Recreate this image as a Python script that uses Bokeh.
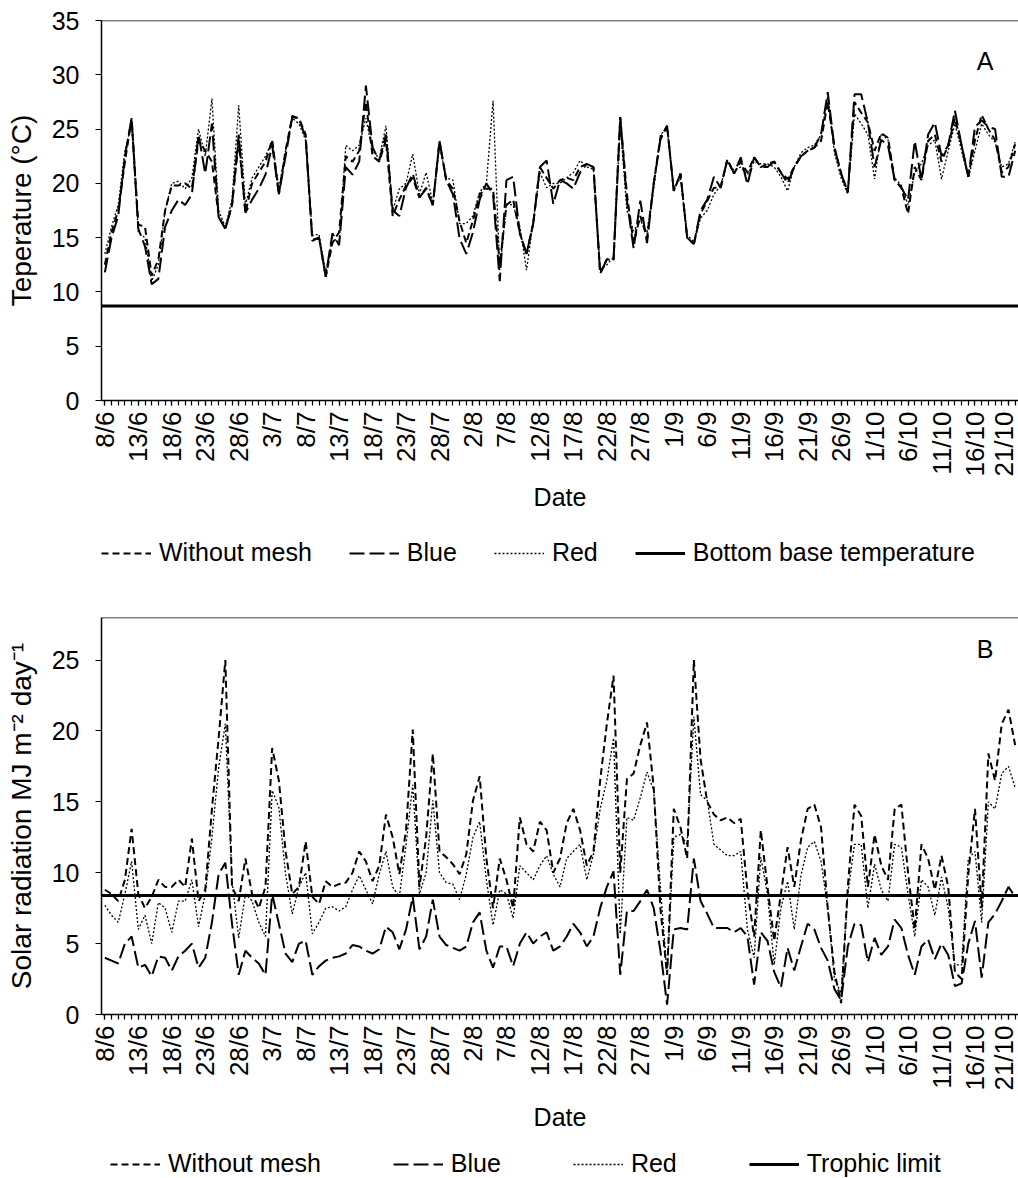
import math
from bokeh.plotting import figure
from bokeh.models import FixedTicker, Legend, LegendItem, Label, Span, Range1d
from bokeh.layouts import column
from bokeh.embed import file_html
from bokeh.resources import INLINE

# ---------------- data ----------------
tick_labels = ["8/6", "13/6", "18/6", "23/6", "28/6", "3/7", "8/7", "13/7", "18/7",
               "23/7", "28/7", "2/8", "7/8", "12/8", "17/8", "22/8", "27/8", "1/9",
               "6/9", "11/9", "16/9", "21/9", "26/9", "1/10", "6/10", "11/10",
               "16/10", "21/10"]

# Panel A: daily temperature (°C), one value per day starting 8/6
temp_without_mesh = [
    12.5, 15.5, 17.5, 22.0, 26.0, 16.2, 16.0, 11.5, 13.0, 17.5,
    19.8, 19.8, 20.0, 19.5, 24.0, 23.0, 22.0, 17.0, 15.8, 18.0,
    24.0, 17.3, 20.0, 21.0, 22.0, 24.0, 19.0, 23.0, 26.2, 26.0,
    24.5, 14.8, 15.0, 11.4, 14.5, 15.5, 22.5, 22.0, 23.0, 27.5,
    22.5, 22.0, 24.0, 17.0, 18.5, 19.8, 20.5, 18.7, 19.6, 18.0,
    23.9, 20.3, 19.5, 16.5, 14.5, 16.6, 19.0, 19.5, 19.5, 12.5,
    18.0, 18.5, 15.4, 13.5, 16.3, 21.5, 20.5, 19.5, 20.3, 20.5,
    20.3, 21.5, 21.8, 21.5, 11.7, 13.0, 12.9, 26.1, 19.0, 14.5,
    17.0, 15.0, 20.0, 24.2, 25.3, 19.3, 20.9, 15.0, 14.4, 17.2,
    18.4, 19.6, 19.6, 22.2, 20.9, 22.0, 21.0, 22.4, 21.5, 21.8,
    22.0, 21.0, 20.4, 21.5, 22.5, 23.0, 23.3, 23.9, 27.5, 23.3,
    20.9, 19.2, 27.5, 26.5, 25.6, 23.0, 24.6, 24.2, 20.3, 19.6,
    17.2, 21.5, 20.3, 23.9, 24.5, 22.0, 23.5, 26.0, 23.5, 20.6,
    24.0, 26.3, 25.0, 24.0, 21.0, 21.5, 23.6]
temp_blue = [
    11.8, 15.0, 17.0, 22.5, 26.0, 15.8, 14.2, 10.7, 11.2, 16.0,
    17.5, 18.5, 18.0, 19.0, 24.5, 20.9, 25.5, 16.9, 15.8, 18.0,
    24.5, 17.3, 18.5, 19.5, 20.8, 23.5, 19.0, 22.5, 26.1, 26.0,
    24.2, 14.7, 15.0, 11.4, 15.4, 14.3, 21.5, 20.8, 22.0, 29.0,
    23.3, 22.1, 24.5, 17.5, 17.0, 19.6, 20.9, 18.7, 19.5, 18.0,
    23.9, 20.3, 19.0, 14.9, 13.5, 15.5, 18.5, 20.0, 19.0, 11.0,
    20.3, 20.6, 15.4, 13.5, 16.3, 21.5, 22.1, 18.1, 20.3, 20.0,
    19.5, 21.0, 21.8, 21.5, 11.7, 13.0, 13.0, 26.1, 18.4, 14.0,
    18.4, 14.5, 20.0, 24.0, 25.3, 19.3, 20.9, 15.0, 14.4, 17.5,
    18.5, 20.6, 19.6, 22.2, 20.9, 22.4, 19.9, 22.4, 21.5, 21.5,
    22.0, 21.0, 20.0, 21.5, 22.5, 23.0, 23.3, 24.5, 28.4, 23.3,
    20.9, 19.2, 28.2, 28.2, 25.6, 21.5, 24.0, 23.5, 20.3, 19.6,
    18.5, 23.9, 20.3, 24.5, 25.6, 22.5, 23.5, 26.7, 23.5, 20.6,
    25.2, 25.8, 25.2, 25.0, 20.6, 20.6, 23.0]
temp_red = [
    13.5, 16.0, 18.0, 23.0, 25.5, 15.5, 15.0, 11.0, 12.5, 17.5,
    20.0, 20.2, 19.5, 20.5, 25.0, 22.5, 27.8, 17.5, 16.0, 18.5,
    27.2, 18.0, 20.5, 21.5, 22.5, 23.9, 19.5, 23.0, 26.0, 25.5,
    24.0, 15.2, 15.3, 11.8, 15.0, 14.5, 23.5, 23.0, 23.5, 26.0,
    23.0, 22.3, 25.3, 17.5, 19.5, 20.0, 22.7, 19.0, 21.0, 18.2,
    23.5, 20.5, 20.3, 16.3, 16.3, 17.0, 19.2, 20.0, 27.6, 12.0,
    18.1, 18.0, 16.0, 12.0, 16.5, 21.0, 19.6, 20.0, 20.0, 20.5,
    21.0, 22.1, 21.5, 21.3, 12.0, 12.5, 13.2, 25.5, 17.5, 15.6,
    16.6, 15.5, 19.5, 24.5, 25.0, 19.5, 20.5, 15.3, 14.6, 16.8,
    17.5, 19.0, 19.8, 22.0, 21.2, 21.5, 20.8, 22.0, 21.8, 21.8,
    21.5, 20.6, 19.3, 21.5, 22.8, 23.3, 23.5, 24.5, 28.0, 22.8,
    20.5, 19.0, 26.4, 25.5, 24.5, 20.4, 24.6, 24.0, 20.5, 19.8,
    18.0, 21.0, 21.8, 23.5, 24.0, 20.4, 23.0, 25.5, 23.0, 20.5,
    23.0, 25.5, 24.5, 23.8, 21.5, 21.8, 23.8]
bottom_base_temperature = 8.7

# Panel B: daily solar radiation (MJ m-2 day-1)
rad_without_mesh = [
    8.8, 8.5, 8.0, 9.5, 13.1, 8.5, 7.5, 8.3, 9.5, 9.0,
    9.0, 9.5, 9.0, 12.4, 8.0, 8.8, 14.5, 19.5, 25.0, 9.0,
    8.0, 11.0, 8.5, 7.5, 9.0, 18.8, 16.5, 11.5, 8.5, 9.0,
    12.2, 8.3, 7.8, 9.4, 9.0, 9.2, 9.3, 10.0, 11.5, 10.8,
    9.4, 10.5, 14.1, 12.5, 9.9, 13.0, 20.1, 9.0, 12.5, 18.4,
    11.5, 11.1, 10.6, 9.9, 11.3, 15.1, 16.8, 11.0, 7.5, 11.0,
    9.5, 7.5, 13.9, 12.0, 11.5, 13.6, 13.0, 10.0, 11.0, 13.5,
    14.5, 13.0, 10.5, 11.5, 16.5, 20.5, 23.9, 10.0, 16.6, 17.0,
    19.0, 20.6, 16.0, 7.5, 2.8, 14.5, 13.2, 11.0, 25.0, 18.0,
    15.0, 14.1, 13.7, 13.9, 13.5, 13.8, 8.7, 5.5, 13.0, 9.0,
    5.2, 8.5, 11.8, 9.0, 12.3, 14.5, 14.8, 13.2, 7.5, 3.0,
    0.8, 9.0, 14.8, 14.0, 9.0, 12.7, 10.5, 9.5, 14.5, 14.8,
    10.0, 6.0, 12.0, 11.0, 8.8, 11.2, 9.0, 3.0, 2.5, 9.9,
    14.5, 7.5, 18.4, 16.5, 20.5, 21.5, 19.0]
rad_blue = [
    4.0, 3.8, 3.6, 5.0, 5.5, 3.3, 3.5, 2.7, 4.1, 4.0,
    3.1, 4.1, 4.5, 5.0, 3.3, 4.0, 6.5, 9.9, 10.7, 6.4,
    2.8, 4.5, 4.0, 3.6, 2.8, 8.5, 6.4, 4.3, 3.7, 5.0,
    5.2, 2.8, 3.4, 3.8, 4.0, 4.1, 4.3, 4.9, 4.8, 4.5,
    4.3, 4.6, 6.2, 5.8, 4.6, 6.0, 8.3, 4.6, 5.5, 8.1,
    5.5, 4.9, 4.7, 4.5, 4.8, 6.5, 7.2, 4.5, 3.3, 4.8,
    4.8, 3.4, 5.0, 5.8, 5.0, 5.5, 5.8, 4.5, 4.8, 5.5,
    6.4, 5.8, 4.8, 5.5, 7.5, 9.0, 10.1, 2.8, 7.3, 7.3,
    8.0, 8.8, 7.5, 4.5, 0.7, 6.0, 6.1, 6.0, 11.0, 8.0,
    7.1, 6.1, 6.1, 6.1, 5.8, 6.1, 5.5, 2.1, 5.8, 5.2,
    3.0, 1.9, 4.7, 3.1, 4.8, 6.4, 6.0, 4.7, 3.8, 1.8,
    1.0, 4.8, 6.4, 6.3, 3.7, 5.4, 4.2, 4.8, 6.7, 6.1,
    4.2, 2.8, 4.8, 5.3, 3.9, 5.0, 4.2, 2.0, 2.2, 5.0,
    6.6, 2.6, 6.5, 7.1, 8.0, 9.0, 8.3]
rad_red = [
    7.7, 7.0, 6.5, 8.5, 10.8, 6.0, 7.0, 5.0, 7.9, 7.5,
    5.8, 8.0, 8.0, 9.5, 6.2, 8.5, 12.5, 17.4, 20.5, 9.4,
    5.4, 8.5, 8.0, 6.5, 5.5, 15.8, 14.6, 9.9, 7.1, 9.0,
    10.0, 5.7, 6.5, 7.5, 7.6, 7.3, 7.6, 8.8, 9.8, 8.8,
    7.8, 9.9, 11.5, 9.0, 8.3, 12.0, 16.2, 8.5, 10.0, 15.1,
    10.0, 9.3, 9.2, 8.1, 9.9, 12.5, 13.6, 9.5, 6.3, 8.8,
    8.5, 6.8, 10.5, 10.0, 9.5, 10.5, 11.2, 9.9, 9.0, 11.0,
    11.5, 12.0, 9.5, 11.3, 14.5, 16.5, 19.5, 5.7, 13.9, 13.7,
    15.3, 17.1, 15.8, 9.0, 2.8, 12.5, 12.7, 12.0, 21.0, 15.5,
    15.1, 12.0, 11.6, 11.2, 11.2, 11.5, 6.0, 4.0, 11.1, 8.5,
    3.5, 7.5, 9.4, 6.0, 9.8, 11.8, 12.2, 10.8, 7.5, 2.5,
    1.5, 8.5, 12.0, 12.0, 7.5, 10.6, 8.8, 8.0, 12.0, 11.8,
    8.5, 5.5, 9.5, 9.0, 7.0, 9.7, 7.5, 3.5, 3.5, 11.0,
    11.5, 6.5, 15.0, 14.5, 17.0, 17.5, 16.0]
trophic_limit = 8.4

# ---------------- chart ----------------
FONT = "Liberation Sans"
n = len(temp_without_mesh)
days = list(range(n))
x_start, x_end = -0.5, n - 0.5
major_days = list(range(0, n, 5))[:len(tick_labels)]

STYLES = {
    "wm": dict(line_color="black", line_width=2, line_dash="7 4"),
    "blue": dict(line_color="black", line_width=2, line_dash="15 5"),
    "red": dict(line_color="black", line_width=1.3, line_dash="2 2"),
    "limit": dict(line_color="black", line_width=3),
}


def draw_series(p, series, limit):
    wm, blue, red = series
    return [p.line(days, wm, **STYLES["wm"]),
            p.line(days, blue, **STYLES["blue"]),
            p.line(days, red, **STYLES["red"]),
            p.line([x_start, x_end], [limit, limit], **STYLES["limit"])]


def make_panel(frame_h, top_border, bottom_border, y_max, y_ticks, y_label,
               series, limit, x_label_standoff, letter, letter_y):
    p = figure(frame_width=917, frame_height=frame_h,
               x_range=Range1d(x_start, x_end), y_range=Range1d(0, y_max),
               output_backend="svg", toolbar_location=None,
               min_border_left=101, min_border_right=0,
               min_border_top=top_border, min_border_bottom=bottom_border,
               background_fill_color="white", border_fill_color="white")
    p.outline_line_color = None
    p.grid.visible = False

    xa = p.xaxis[0]
    xa.ticker = FixedTicker(ticks=major_days, minor_ticks=days)
    xa.major_label_overrides = {d: lab for d, lab in zip(major_days, tick_labels)}
    xa.major_label_orientation = math.pi / 2
    xa.major_label_text_font = FONT
    xa.major_label_text_font_size = "26px"
    xa.major_label_text_color = "black"
    xa.major_label_standoff = 6
    xa.major_tick_in = 0
    xa.major_tick_out = 5
    xa.minor_tick_in = 0
    xa.minor_tick_out = 5
    xa.axis_line_width = 1.5
    xa.major_tick_line_width = 1.2
    xa.minor_tick_line_width = 1.2
    xa.axis_label = "Date"
    xa.axis_label_text_font = FONT
    xa.axis_label_text_font_size = "25px"
    xa.axis_label_text_font_style = "normal"
    xa.axis_label_text_color = "black"
    xa.axis_label_standoff = x_label_standoff

    ya = p.yaxis[0]
    ya.ticker = FixedTicker(ticks=y_ticks)
    ya.major_label_text_font = FONT
    ya.major_label_text_font_size = "25px"
    ya.major_label_text_color = "black"
    ya.major_label_standoff = 16
    ya.major_tick_in = 0
    ya.major_tick_out = 6
    ya.minor_tick_line_color = None
    ya.axis_line_width = 1.5
    ya.major_tick_line_width = 1.2
    ya.axis_label = y_label
    ya.axis_label_text_font = FONT
    ya.axis_label_text_font_size = "28px"
    ya.axis_label_text_font_style = "normal"
    ya.axis_label_text_color = "black"
    ya.axis_label_standoff = 12

    p.add_layout(Span(location=y_max, dimension="width",
                      line_color="black", line_width=1.5))
    draw_series(p, series, limit)
    p.add_layout(Label(x=131.5, y=letter_y, text=letter, text_font=FONT,
                       text_font_size="25px", text_align="center",
                       text_baseline="middle", text_color="black"))
    return p


def make_legend(height, series, limit, limit_label, vx, vy, spacing):
    # legend strip: the same series are drawn again but lie outside this strip's
    # y range, so only the legend keys (their line styles) are visible
    lg = figure(width=1018, height=height, x_range=Range1d(x_start, x_end),
                y_range=Range1d(-2, -1), x_axis_location=None, y_axis_location=None,
                output_backend="svg", toolbar_location=None, min_border=0,
                min_border_left=0, min_border_right=0, min_border_top=0,
                min_border_bottom=0,
                background_fill_color="white", border_fill_color="white")
    lg.grid.visible = False
    lg.outline_line_color = None
    keys = draw_series(lg, series, limit)
    labels = ["Without mesh", "Blue", "Red", limit_label]
    legend = Legend(items=[LegendItem(label=t, renderers=[r]) for t, r in zip(labels, keys)],
                    orientation="horizontal", location=(vx, vy),
                    margin=0, padding=0, spacing=spacing,
                    glyph_width=50, glyph_height=20, label_standoff=8,
                    label_text_font=FONT, label_text_font_size="25px",
                    label_text_color="black", border_line_color=None,
                    background_fill_alpha=0)
    lg.add_layout(legend, "center")
    return lg


series_A = (temp_without_mesh, temp_blue, temp_red)
series_B = (rad_without_mesh, rad_blue, rad_red)

pA = make_panel(380, 20, 113, 35, list(range(0, 36, 5)), "Teperature (°C)",
                series_A, bottom_base_temperature, 3, "A", 31.3)
legA = make_legend(77, series_A, bottom_base_temperature,
                   "Bottom base temperature", 0, 23, 37)
pB = make_panel(397, 27, 117, 28, list(range(0, 26, 5)),
                "Solar radiation MJ m\u207b\u00b2 day\u207b\u00b9",
                series_B, trophic_limit, 9, "B", 25.8)
legB = make_legend(47, series_B, trophic_limit, "Trophic limit", 9, 2, 72)

layout = column(pA, legA, pB, legB, spacing=0)
open("out.html", "w").write(file_html(layout, INLINE))
